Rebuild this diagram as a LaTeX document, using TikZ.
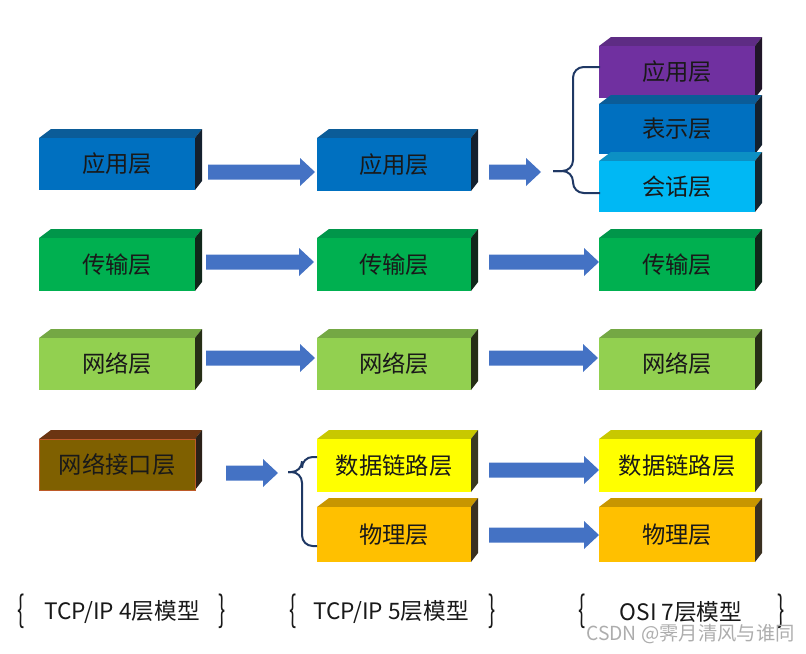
\documentclass[tikz,border=0pt]{standalone}
\usepackage{fontspec}
\setmainfont{Noto Sans CJK SC}
\usetikzlibrary{calc}
\definecolor{fBlue}{HTML}{0070C0}\definecolor{tBlue}{HTML}{0B5C98}\definecolor{sBlue}{HTML}{14202E}
\definecolor{fGreen}{HTML}{00B050}\definecolor{tGreen}{HTML}{00964A}\definecolor{sGreen}{HTML}{10261A}
\definecolor{fLGreen}{HTML}{92D050}\definecolor{tLGreen}{HTML}{74A844}\definecolor{sLGreen}{HTML}{262E16}
\definecolor{fBrown}{HTML}{7F6000}\definecolor{tBrown}{HTML}{6B3512}\definecolor{sBrown}{HTML}{2A2018}
\definecolor{fYellow}{HTML}{FFFF00}\definecolor{tYellow}{HTML}{C8C800}\definecolor{sYellow}{HTML}{3A3A20}
\definecolor{fGold}{HTML}{FFC000}\definecolor{tGold}{HTML}{C89600}\definecolor{sGold}{HTML}{3A3020}
\definecolor{fPurple}{HTML}{7030A0}\definecolor{tPurple}{HTML}{5E2C84}\definecolor{sPurple}{HTML}{201528}
\definecolor{fCyan}{HTML}{00B8F4}\definecolor{tCyan}{HTML}{0C90C4}\definecolor{sCyan}{HTML}{142630}
\definecolor{arrowBlue}{HTML}{4472C4}
\definecolor{braceNavy}{HTML}{1F3864}
% #1 name, #2 x0, #3 y of front top, #4 width, #5 height, #6 front, #7 top, #8 side, #9 text
\newcommand\lbox[9]{%
  \fill[#7] (#2,#3) -- ++(12,-9) -- ({#2+#4+7},{#3-9}) -- ({#2+#4},#3) -- cycle;
  \fill[#8] ({#2+#4},#3) -- ++(7,-9) -- ++(0,#5) -- ({#2+#4},{#3+#5}) -- cycle;
  \node[boxface, fill=#6, minimum width={#4*0.75pt}, minimum height={#5*0.75pt}] (#1) at (#2,#3) {\raisebox{-1.5pt}{#9}};
}
% block arrow: #1 x start, #2 x end, #3 y
\newcommand\blockarrow[3]{%
  \fill[arrowBlue] (#1,{#3-7.5}) -- ({#2-15},{#3-7.5}) -- ({#2-15},{#3-14}) -- (#2,#3)
    -- ({#2-15},{#3+14}) -- ({#2-15},{#3+7.5}) -- (#1,{#3+7.5}) -- cycle;
}
\begin{document}
\begin{tikzpicture}[x=0.75pt,y=-0.75pt,
  boxface/.style={anchor=north west, inner sep=0pt, outer sep=0pt, text=black!90, font=\fontsize{17.5}{20}\selectfont},
  bracestyle/.style={draw=braceNavy, line width=1.5pt, rounded corners=8pt},
  lbl/.style={font=\fontsize{17}{20}\selectfont, text=black!90, inner sep=0pt},
  brc/.style={font=\fontsize{20}{22}\selectfont, text=black!90, inner sep=0pt}]
\useasboundingbox (0,0) rectangle (806,653);
% column 1 (TCP/IP 4)
\lbox{a1}{39}{138}{156}{52}{fBlue}{tBlue}{sBlue}{应用层}
\lbox{a2}{39}{238}{156}{53}{fGreen}{tGreen}{sGreen}{传输层}
\lbox{a3}{39}{338}{156}{52}{fLGreen}{tLGreen}{sLGreen}{网络层}
\fill[tBrown] (39,439) -- ++(12,-9) -- (202,430) -- (195,439) -- cycle;
\fill[sBrown] (195,439) -- ++(7,-9) -- ++(0,51) -- (195,490) -- cycle;
\node[boxface, fill=fBrown, draw={rgb,255:red,190;green,90;blue,40}, line width=0.6pt, minimum width={156*0.75pt}, minimum height={51*0.75pt}] (a4) at (39,439) {\raisebox{-1pt}{网络接口层}};
% column 2 (TCP/IP 5)
\lbox{b1}{317}{138}{154}{53}{fBlue}{tBlue}{sBlue}{应用层}
\lbox{b2}{317}{238}{154}{53}{fGreen}{tGreen}{sGreen}{传输层}
\lbox{b3}{317}{338}{154}{52}{fLGreen}{tLGreen}{sLGreen}{网络层}
\lbox{b4}{317}{439}{154}{53}{fYellow}{tYellow}{sYellow}{数据链路层}
\lbox{b5}{317}{507}{154}{55}{fGold}{tGold}{sGold}{物理层}
% column 3 (OSI 7)
\lbox{c1}{599}{46}{156}{52}{fPurple}{tPurple}{sPurple}{应用层}
\lbox{c2}{599}{104}{156}{50}{fBlue}{tBlue}{sBlue}{表示层}
\lbox{c3}{599}{161}{156}{51}{fCyan}{tCyan}{sCyan}{会话层}
\lbox{c4}{599}{238}{156}{53}{fGreen}{tGreen}{sGreen}{传输层}
\lbox{c5}{599}{338}{156}{52}{fLGreen}{tLGreen}{sLGreen}{网络层}
\lbox{c6}{599}{439}{156}{53}{fYellow}{tYellow}{sYellow}{数据链路层}
\lbox{c7}{599}{507}{156}{55}{fGold}{tGold}{sGold}{物理层}
% arrows
\blockarrow{208}{315}{172}
\blockarrow{489}{541}{172}
\blockarrow{206}{314}{262}
\blockarrow{489}{599}{262}
\blockarrow{206}{315}{358}
\blockarrow{489}{598}{358}
\blockarrow{226}{278}{473}
\blockarrow{489}{599}{470}
\blockarrow{489}{599}{535}
% braces
\coordinate (k1) at (553,171);
\coordinate (k2) at (288,472);
\draw[bracestyle] (600,67) -- (573,67) -- (573,171) -- (k1);
\draw[bracestyle] (k1) -- (573,171) -- (573,193) -- (600,193);
\draw[bracestyle] (317,457) -- (302,457) -- (302,472) -- (k2);
\draw[bracestyle] (k2) -- (302,472) -- (302,546) -- (317,546);
% bottom labels
\node[brc] (l1a) at (21,611) {\scalebox{0.8}[1.35]{\{}};
\node[lbl] (l1) at (122,612) {TCP/IP 4层模型};
\node[brc] (l1b) at (222,611) {\scalebox{0.8}[1.35]{\}}};
\node[brc] (l2a) at (293,611) {\scalebox{0.8}[1.35]{\{}};
\node[lbl] (l2) at (391,612) {TCP/IP 5层模型};
\node[brc] (l2b) at (492,611) {\scalebox{0.8}[1.35]{\}}};
\node[brc] (l3a) at (582,611) {\scalebox{0.8}[1.35]{\{}};
\node[lbl] (l3) at (681,612) {OSI 7层模型};
\node[brc] (l3b) at (781,611) {\scalebox{0.8}[1.35]{\}}};
\node[font=\fontsize{14.5}{16}\selectfont, text=black!32, inner sep=0pt, anchor=east] (wm) at (795,634) {CSDN @霁月清风与谁同};
\end{tikzpicture}
\end{document}
